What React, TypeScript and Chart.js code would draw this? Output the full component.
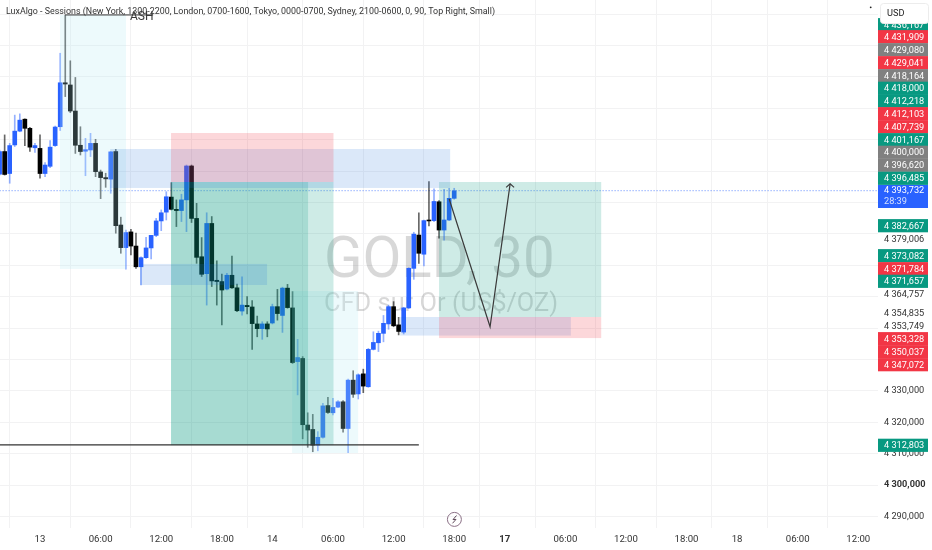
import React, { useEffect, useRef } from "react";
import { Chart, registerables } from "chart.js";

Chart.register(...registerables);

const firstCandle = -8;
const opens = [4399.0,4406.2,4399.2,4408.3,4412.7,4416.5,4413.6,4407.4,4407.2,4399.2,4401.5,4408.1,4414.1,4428.1,4427.4,4419.1,4408.2,4406.3,4406.7,4408.8,4399.7,4397.9,4397.4,4406.2,4382.8,4375.6,4380.6,4376.1,4369.5,4372.4,4375.5,4379.5,4384.1,4386.9,4391.7,4387.8,4387.4,4390.8,4401.6,4384.9,4372.7,4367.3,4383.3,4365.2,4364.8,4362.4,4366.8,4362.8,4355.4,4357.2,4356.7,4351.3,4349.8,4351.3,4351.6,4356.8,4354.0,4362.7,4356.4,4339.3,4340.3,4319.1,4317.7,4312.7,4315.2,4325.3,4323.0,4324.8,4326.5,4318.0,4333.4,4329.0,4335.4,4331.3,4343.2,4345.3,4348.3,4351.3,4356.8,4351.0,4348.7,4356.4,4369.0,4379.6,4373.5,4384.4,4384.2,4390.2,4381.2,4384.4,4391.3];
const highs = [4406.7,4411.5,4408.8,4417.8,4418.2,4416.6,4413.9,4408.8,4411.5,4402.7,4409.7,4414.3,4437.5,4449.7,4435.1,4429.8,4414.1,4410.4,4412.0,4410.1,4400.3,4399.3,4406.2,4406.9,4385.3,4381.2,4381.4,4380.2,4372.7,4378.9,4379.5,4384.9,4387.6,4393.4,4396.3,4390.8,4392.6,4401.9,4401.9,4389.7,4378.8,4386.7,4385.5,4371.4,4367.2,4367.4,4372.9,4364.0,4366.3,4360.0,4358.7,4353.8,4352.0,4352.0,4357.6,4362.3,4363.0,4363.9,4361.6,4346.4,4340.9,4323.0,4322.5,4317.0,4326.0,4327.9,4327.6,4326.9,4326.9,4333.7,4336.4,4335.4,4336.9,4343.5,4348.8,4349.0,4354.0,4357.3,4358.4,4353.4,4356.6,4369.2,4380.5,4386.7,4384.4,4396.6,4394.3,4390.6,4394.2,4394.5,4394.5];
const lows = [4398.7,4398.7,4396.1,4407.8,4412.5,4408.1,4406.2,4405.9,4397.7,4398.2,4401.1,4407.8,4412.9,4423.7,4418.6,4405.6,4405.1,4398.5,4404.6,4398.2,4391.2,4394.8,4392.9,4380.2,4373.8,4368.7,4373.3,4369.0,4363.7,4372.2,4372.0,4379.1,4381.0,4384.4,4387.6,4382.3,4383.9,4380.7,4383.6,4370.6,4366.4,4357.3,4363.2,4357.3,4351.0,4362.1,4362.6,4355.2,4354.1,4354.5,4343.2,4347.2,4346.4,4347.2,4351.3,4352.5,4348.6,4356.3,4338.7,4328.7,4314.7,4312.0,4310.6,4310.9,4314.9,4322.8,4322.3,4324.6,4316.8,4310.3,4327.9,4327.4,4329.4,4331.1,4343.0,4342.5,4345.6,4349.6,4350.4,4347.8,4348.1,4356.2,4365.5,4370.6,4369.8,4382.5,4383.9,4378.6,4378.0,4384.2,4391.0];
const closes = [4406.2,4398.9,4408.1,4412.7,4416.2,4413.6,4407.6,4408.1,4399.2,4401.9,4407.6,4414.0,4428.1,4427.7,4419.1,4408.2,4406.2,4406.8,4408.8,4399.8,4397.9,4397.5,4406.1,4382.6,4375.6,4380.4,4376.1,4369.5,4372.4,4375.5,4379.5,4384.1,4386.7,4391.8,4387.8,4387.4,4390.8,4401.6,4384.9,4372.5,4367.1,4383.3,4365.0,4364.8,4362.1,4366.8,4362.8,4355.5,4357.3,4356.8,4351.4,4349.8,4351.3,4349.7,4356.8,4354.6,4362.7,4356.5,4339.0,4340.6,4319.2,4317.5,4312.7,4315.2,4325.2,4323.1,4324.7,4326.5,4318.0,4333.4,4328.9,4335.1,4331.5,4343.2,4345.4,4348.3,4351.5,4356.8,4350.7,4348.9,4356.4,4369.0,4379.9,4373.8,4384.2,4384.1,4390.3,4381.2,4384.4,4391.3,4393.7];

const xTickIndexes = [0,12,24,36,46,58,70,82,92,104,116,128,138,150,162];
const xTickLabels = ["13","06:00","12:00","18:00","14","06:00","12:00","18:00","17","06:00","12:00","18:00","18","06:00","12:00"];
const boldXLabels = ["17"];

const gridPrices = [4290,4300,4310,4320,4330,4340,4350,4360,4370,4380,4390,4400,4410,4420,4430,4440,4450];
const shownPrices = [4290,4300,4310,4320,4330];
const boldPrice = 4300;

const lastPrice = 4393.732;
const countdown = "28:39";
const tagTexts = ["4 436,167","4 431,909","4 429,080","4 429,041","4 418,164","4 418,000","4 412,218","4 412,103","4 407,739","4 401,167","4 400,000","4 396,620","4 396,485","4 382,667","4 379,006","4 373,082","4 371,784","4 371,657","4 364,757","4 354,835","4 353,749","4 353,328","4 350,037","4 347,072","4 312,803"];
const tagKinds = ["g","r","n","r","n","g","g","r","r","g","n","n","g","g","p","g","r","g","p","p","p","r","r","r","g"];
const tagRows = [24.7,36.7,49.7,62.7,75.7,88.3,101,113.7,126.7,139.7,152.3,165.3,178.3,225.7,238.7,255.7,268.7,281.3,294.3,313,325.7,338.7,351.7,364.7,445.3];

// zones: x from, x to (candle index), price from, price to
const sessionZones = [[3.96,17.03,4449.7,4368.8],[49.9,62.97,4361.8,4310.2]];
const blueZones = [[13.9,81.2,4407.0,4394.6],[19.8,44.95,4370.4,4363.7],[71.3,105.1,4353.5,4347.6]];
const redZones = [[25.94,58.1,4412.1,4396.5],[79.0,111.1,4353.5,4346.8]];
const greenZones = [[25.94,58.1,4396.5,4312.7],[25.94,53.07,4396.5,4312.7],[79.0,111.1,4396.5,4353.5]];

const supportLevel = [{x:-8,y:4312.8},{x:75,y:4312.8}];
const highLevel = [{x:5,y:4449.7},{x:22.4,y:4449.7}];
const forecastPath = [{x:81.0,y:4391.1},{x:89.1,y:4350.4},{x:93.07,y:4395.9}];
const arrowHead = [{x:92.28,y:4394.8},{x:93.07,y:4395.9},{x:93.86,y:4394.8}];

const legendText = "LuxAlgo - Sessions (New York, 1300-2200, London, 0700-1600, Tokyo, 0000-0700, Sydney, 2100-0600, 0, 90, Top Right, Small)";
const FONT = "Roboto, sans-serif";
const BLUE = "#2962ff";
const tagColors: Record<string,string> = { g:"#089981", r:"#f23645", n:"#808080" };

const overlay = {
  id: "overlay",
  beforeDatasetsDraw(chart: any) {
    const { ctx } = chart;
    ctx.save();
    ctx.fillStyle = "rgba(60,60,60,0.2)";
    ctx.textBaseline = "alphabetic";
    ctx.textAlign = "left";
    ctx.font = `400 56.5px ${FONT}`;
    ctx.fillText("GOLD, 30", 324, 277);
    ctx.font = `400 25.4px ${FONT}`;
    ctx.fillText("CFD sur Or (US$/OZ)", 324, 311);
    ctx.restore();
  },
  afterDatasetDraw(chart: any, args: any) {
    if (args.index !== 1) return;
    const { ctx, scales: { x, y } } = chart;
    const paint = (zones: number[][], color: string) => {
      ctx.fillStyle = color;
      zones.forEach(([a, b, p, q]) => {
        ctx.fillRect(x.getPixelForValue(a), y.getPixelForValue(p), x.getPixelForValue(b) - x.getPixelForValue(a), y.getPixelForValue(q) - y.getPixelForValue(p));
      });
    };
    ctx.save();
    paint(sessionZones, "rgba(178,235,242,0.24)");
    paint(greenZones, "rgba(8,153,129,0.2)");
    paint(blueZones, "rgba(33,110,215,0.16)");
    paint(redZones, "rgba(242,54,69,0.2)");
    ctx.restore();
  },
  afterDraw(chart: any) {
    const { ctx } = chart;
    ctx.save();
    ctx.textBaseline = "middle";
    ctx.textAlign = "left";
    // legend line
    ctx.font = `400 8.9px ${FONT}`;
    ctx.fillStyle = "#333";
    ctx.fillText(legendText, 6, 12);
    ctx.font = `400 12px ${FONT}`;
    ctx.fillStyle = "#3a3a3a";
    ctx.fillText("ASH", 130, 17);
    // price tags
    ctx.font = `400 9.2px ${FONT}`;
    tagTexts.forEach((t, i) => {
      const kind = tagKinds[i];
      const row = tagRows[i];
      if (kind !== "p") {
        ctx.fillStyle = tagColors[kind];
        ctx.fillRect(878, row - 6.6, 50, 13.2);
      }
      ctx.fillStyle = kind === "p" ? "#333" : "#fff";
      ctx.fillText(t, 884, row + 0.5);
    });
    // last price
    ctx.fillStyle = BLUE;
    ctx.fillRect(878, 185, 50, 23);
    ctx.fillStyle = "#fff";
    ctx.fillText("4 393,732", 884, 191);
    ctx.fillStyle = "rgba(255,255,255,0.8)";
    ctx.fillText(countdown, 884, 201.5);
    // currency box
    ctx.fillStyle = "#fff";
    ctx.strokeStyle = "#ececec";
    ctx.lineWidth = 1;
    ctx.beginPath();
    ctx.roundRect(880.5, 3.5, 48, 20, 3);
    ctx.fill();
    ctx.stroke();
    ctx.fillStyle = "#222";
    ctx.fillText("USD", 887, 13.5);
    ctx.fillStyle = "#222";
    ctx.beginPath();
    ctx.arc(870.7, 7.3, 0.9, 0, Math.PI * 2);
    ctx.fill();
    // bolt icon
    ctx.strokeStyle = "#8a6f85";
    ctx.lineWidth = 1;
    ctx.beginPath();
    ctx.arc(454.4, 519.4, 7, 0, Math.PI * 2);
    ctx.stroke();
    ctx.strokeStyle = "#5f4a5a";
    ctx.beginPath();
    ctx.moveTo(456.5, 515.5);
    ctx.lineTo(453, 519.6);
    ctx.lineTo(456, 519.4);
    ctx.lineTo(452.5, 523.3);
    ctx.stroke();
    ctx.restore();
  },
};

export default function App() {
  const ref = useRef<HTMLCanvasElement>(null);
  useEffect(() => {
    document.body.style.margin = "0";
    const xs = opens.map((_, i) => firstCandle + i);
    const isUp = (i: number) => closes[i] > opens[i];
    const lineBase = { type: "line", pointRadius: 0, tension: 0, fill: false };
    const chart = new Chart(ref.current!, {
      type: "bar",
      data: {
        datasets: [
          {
            ...lineBase, label: "Forecast", order: 0, data: forecastPath,
            borderColor: "#3a3a3a", borderWidth: 1.2,
          },
          {
            type: "bar", label: "Body", order: 5, grouped: false, barThickness: 4, borderWidth: 0,
            data: xs.map((x, i) => ({ x, y: [opens[i], closes[i]] })),
            backgroundColor: xs.map((_, i) => (isUp(i) ? BLUE : "#000")),
          },
          {
            type: "bar", label: "Wick", order: 6, grouped: false, barThickness: 1, borderWidth: 0,
            data: xs.map((x, i) => ({ x, y: [lows[i], highs[i]] })),
            backgroundColor: xs.map((_, i) => (isUp(i) ? "rgba(41,98,255,0.5)" : "rgba(0,0,0,0.6)")),
          },
          { ...lineBase, label: "Head", order: 0, data: arrowHead, borderColor: "#3a3a3a", borderWidth: 1.2 },
          { ...lineBase, label: "Support", order: 1, data: supportLevel, borderColor: "#333", borderWidth: 1.2 },
          { ...lineBase, label: "High", order: 1, data: highLevel, borderColor: "#333", borderWidth: 1 },
          {
            ...lineBase, label: "Last", order: 7,
            data: [{ x: -8, y: lastPrice }, { x: 166, y: lastPrice }],
            borderColor: "rgba(41,98,255,0.75)", borderWidth: 1, borderDash: [1, 2],
          },
        ] as any,
      },
      options: {
        responsive: false,
        animation: false,
        layout: { padding: 0 },
        plugins: { legend: { display: false }, tooltip: { enabled: false } },
        scales: {
          x: {
            type: "linear", min: -7.92, max: 165.9, offset: false,
            afterBuildTicks: (s: any) => { s.ticks = xTickIndexes.map((value) => ({ value })); },
            afterFit: (s: any) => { s.height = 22; s.paddingLeft = 0; s.paddingRight = 0; },
            grid: { color: "#f2f2f3", lineWidth: 1, drawTicks: false },
            border: { display: false },
            ticks: {
              autoSkip: false, maxRotation: 0, padding: 6, color: "#333",
              callback: (v: any) => xTickLabels[xTickIndexes.indexOf(v)] ?? "",
              font: (c: any) => ({
                family: FONT, size: 9.6,
                weight: boldXLabels.includes(xTickLabels[xTickIndexes.indexOf(c.tick?.value)]) ? "700" : "400",
              }),
            },
          },
          y: {
            type: "linear", position: "right", min: 4286.31, max: 4454.46,
            afterBuildTicks: (s: any) => { s.ticks = gridPrices.map((value) => ({ value })); },
            afterFit: (s: any) => { s.width = 54; s.paddingTop = 0; s.paddingBottom = 0; },
            grid: { color: "#f2f2f3", lineWidth: 1, drawTicks: false },
            border: { display: false },
            ticks: {
              autoSkip: false, padding: 6, color: "#333",
              callback: (v: any) => (shownPrices.includes(v) ? `4 ${String(v).slice(1)},000` : ""),
              font: (c: any) => ({ family: FONT, size: 9.2, weight: c.tick?.value === boldPrice ? "700" : "400" }),
            },
          },
        },
      } as any,
      plugins: [overlay],
    });
    return () => chart.destroy();
  }, []);
  return (
    <div style={{ width: 932, height: 550, background: "#fff" }}>
      <canvas ref={ref} width={932} height={550} style={{ display: "block" }} />
    </div>
  );
}
